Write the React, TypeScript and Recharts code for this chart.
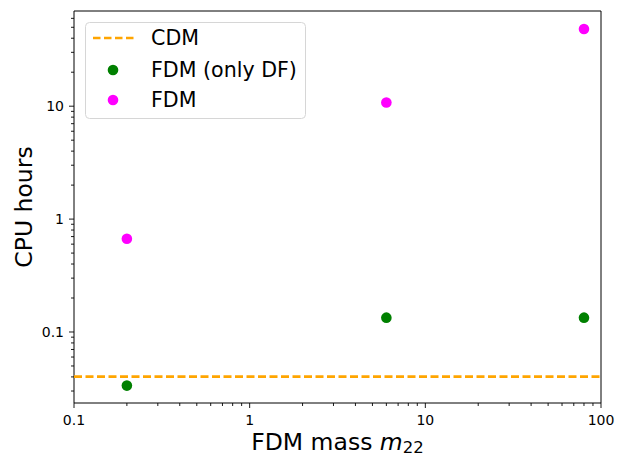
import React from "react";
import {
  ScatterChart,
  Scatter,
  XAxis,
  YAxis,
  ReferenceLine,
  ReferenceArea,
} from "recharts";

// FDM particle mass m22
const masses = [0.2, 6, 80];
// CPU hours per run
const fdmHours = [0.67, 10.8, 48.3];
const fdmDfHours = [0.0335, 0.134, 0.134];
const cdmHours = 0.0402;

const xMajor = [0.1, 1, 10, 100];
const xMinor = [0.2, 0.3, 0.4, 0.5, 0.6, 0.7, 0.8, 0.9, 2, 3, 4, 5, 6, 7, 8, 9, 20, 30, 40, 50, 60, 70, 80, 90];
const yMajor = [0.1, 1, 10];
const yMinor = [0.03, 0.04, 0.05, 0.06, 0.07, 0.08, 0.09, 0.2, 0.3, 0.4, 0.5, 0.6, 0.7, 0.8, 0.9, 2, 3, 4, 5, 6, 7, 8, 9, 20, 30, 40, 50, 60];
const xDomain = [0.1, 100];
const yDomain = [0.0235, 69.7];

const fdmData = masses.map((m, i) => ({ m, h: fdmHours[i] }));
const fdmDfData = masses.map((m, i) => ({ m, h: fdmDfHours[i] }));

const FONT = "'DejaVu Sans', sans-serif";
const ORANGE = "#ffa500";
const GREEN = "#008000";
const MAGENTA = "#ff00ff";

const fmt = (v: number) => String(v);

const XTick = (props: any) => {
  const { x, y, payload } = props;
  const major = xMajor.includes(payload.value);
  return (
    <g>
      <line x1={x} x2={x} y1={y} y2={y + (major ? 5 : 3)} stroke="#000" strokeWidth={0.9} />
      {major && (
        <text x={x} y={y + 22} textAnchor="middle" fontSize={14} fontFamily={FONT} fill="#000">
          {fmt(payload.value)}
        </text>
      )}
    </g>
  );
};

const YTick = (props: any) => {
  const { x, y, payload } = props;
  const major = yMajor.includes(payload.value);
  return (
    <g>
      <line x1={x - (major ? 5 : 3)} x2={x} y1={y} y2={y} stroke="#000" strokeWidth={0.9} />
      {major && (
        <text x={x - 10} y={y + 5} textAnchor="end" fontSize={14} fontFamily={FONT} fill="#000">
          {fmt(payload.value)}
        </text>
      )}
    </g>
  );
};

const LegendBox = () => (
  <svg width={221} height={97} style={{ display: "block" }}>
    <rect x={0.5} y={0.5} width={220} height={96} rx={4} fill="rgba(255,255,255,0.8)" stroke="#d6d6d6" />
    <line x1={8} x2={49} y1={16} y2={16} stroke={ORANGE} strokeWidth={2.6} strokeDasharray="7.5 3.5" />
    <text x={66} y={23} fontSize={20.6} fontFamily={FONT} fill="#000">CDM</text>
    <circle cx={28} cy={48} r={5.3} fill={GREEN} />
    <text x={66} y={55} fontSize={20.6} fontFamily={FONT} fill="#000">FDM (only DF)</text>
    <circle cx={28} cy={78} r={5.3} fill={MAGENTA} />
    <text x={66} y={85} fontSize={20.6} fontFamily={FONT} fill="#000">FDM</text>
  </svg>
);

const dot = (color: string) => (p: any) => <circle cx={p.cx} cy={p.cy} r={5.3} fill={color} />;

export default function App() {
  document.body.style.margin = "0";
  return (
    <div style={{ position: "relative", width: 617, height: 457, background: "#fff" }}>
      <ScatterChart width={617} height={457} margin={{ top: 11, right: 16, bottom: 10, left: 10 }}>
        <XAxis
          type="number"
          dataKey="m"
          scale="log"
          domain={xDomain}
          allowDataOverflow
          ticks={[...xMajor, ...xMinor]}
          interval={0}
          tickSize={0}
          tickMargin={0}
          tickLine={false}
          axisLine={false}
          tick={<XTick />}
          height={44}
          label={{
            content: (lp: any) => {
              const vb = lp.viewBox;
              return (
                <text x={vb.x + vb.width / 2} y={450} textAnchor="middle" fontSize={23.5} fontFamily={FONT} fill="#000">
                  FDM mass <tspan fontStyle="italic">m</tspan>
                  <tspan fontSize={16.5} dy={3}>22</tspan>
                </text>
              );
            },
          }}
        />
        <YAxis
          type="number"
          dataKey="h"
          scale="log"
          domain={yDomain}
          allowDataOverflow
          ticks={[...yMajor, ...yMinor]}
          interval={0}
          tickSize={0}
          tickMargin={0}
          tickLine={false}
          axisLine={false}
          tick={<YTick />}
          width={64}
          label={{
            content: (lp: any) => {
              const vb = lp.viewBox;
              const cy = vb.y + vb.height / 2;
              return (
                <text x={32} y={cy} transform={`rotate(-90 32 ${cy})`} textAnchor="middle" fontSize={23.5} fontFamily={FONT} fill="#000">
                  CPU hours
                </text>
              );
            },
          }}
        />
        <ReferenceLine y={cdmHours} stroke={ORANGE} strokeWidth={2.8} strokeDasharray="8 3.5" />
        <Scatter name="FDM (only DF)" data={fdmDfData} fill={GREEN} shape={dot(GREEN)} isAnimationActive={false} />
        <Scatter name="FDM" data={fdmData} fill={MAGENTA} shape={dot(MAGENTA)} isAnimationActive={false} />
        <ReferenceArea
          x1={xDomain[0]}
          x2={xDomain[1]}
          y1={yDomain[0]}
          y2={yDomain[1]}
          fill="none"
          fillOpacity={0}
          stroke="#000"
          strokeWidth={1}
        />
      </ScatterChart>
      <div style={{ position: "absolute", left: 85, top: 22 }}>
        <LegendBox />
      </div>
    </div>
  );
}
